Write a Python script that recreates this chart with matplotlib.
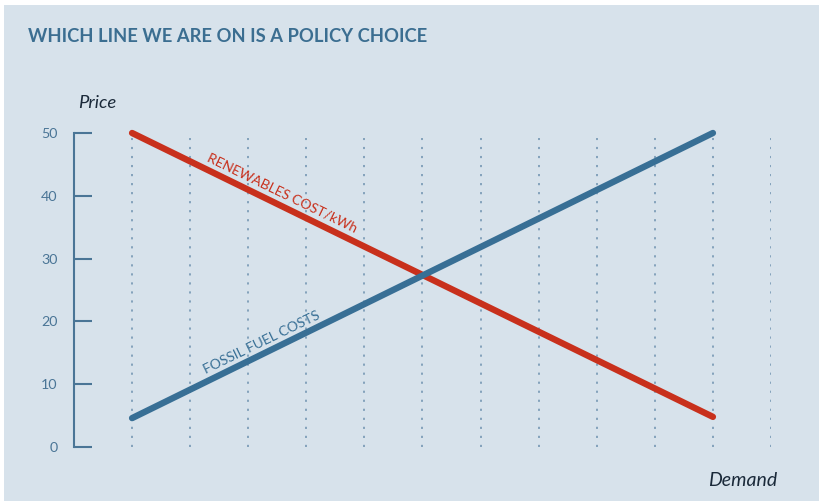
import matplotlib
matplotlib.use("Agg")
import matplotlib.pyplot as plt
from matplotlib.patches import Rectangle

# Data
demand = [0, 10]
renewables_cost = [50, 4.8]
fossil_cost = [4.6, 50]
grid_x = list(range(0, 12))
y_ticks = [0, 10, 20, 30, 40, 50]

BG = "#d7e2eb"
BLUE = "#386f95"
RED = "#c8301c"
TICK = "#4a7596"

plt.rcParams['font.family'] = ['Lato', 'DejaVu Sans']

fig = plt.figure(figsize=(8.19, 5.01), dpi=100)
fig.patch.set_facecolor("white")
fig.patches.append(Rectangle((4/819, 0), 1 - 4/819, 1 - 5/501, transform=fig.transFigure,
                             facecolor=BG, edgecolor="none", zorder=-10))

ax = fig.add_axes([74/819, (501-447)/501, (771-74)/819, 314/501])
ax.set_facecolor("none")
ax.set_xlim(-1, 11)
ax.set_ylim(0, 50)

ax.vlines(grid_x, 0, 49.2, colors="#7d9db7", linestyles=(0, (1.2, 3.8)), linewidth=1.3, zorder=1)

ax.plot(demand, renewables_cost, color=RED, linewidth=4.6, solid_capstyle="round", clip_on=False, zorder=3)
ax.plot(demand, fossil_cost, color=BLUE, linewidth=4.6, solid_capstyle="round", clip_on=False, zorder=4)

for s in ["top", "right", "bottom"]:
    ax.spines[s].set_visible(False)
ax.spines["left"].set_color(TICK)
ax.spines["left"].set_linewidth(1.5)
ax.set_xticks([])
ax.set_yticks(y_ticks)
ax.set_yticklabels([str(v) for v in y_ticks])
ax.tick_params(axis="y", direction="in", length=13, width=1.5, color=TICK,
               labelcolor=TICK, labelsize=10.3, pad=12)

ax.text(2.58, 40.4, "RENEWABLES COST/kWh", color=RED, fontsize=10, rotation=-25.9,
        ha="center", va="center", rotation_mode="anchor")
ax.text(2.23, 16.6, "FOSSIL FUEL COSTS", color=BLUE, fontsize=10, rotation=25.9,
        ha="center", va="center", rotation_mode="anchor")

fig.text(28/819, 1 - 36/501, "WHICH LINE WE ARE ON IS A POLICY CHOICE", color="#3b6e91",
         fontsize=13.2, fontweight="bold", ha="left", va="center")
fig.text(78/819, 1 - 103/501, "Price", color="#1b2a3a", fontsize=13.3, style="italic",
         ha="left", va="center")
fig.text(708/819, 1 - 480/501, "Demand", color="#1b2a3a", fontsize=14, style="italic",
         ha="left", va="center")

fig.savefig("out.png", dpi=100, facecolor=fig.get_facecolor())
